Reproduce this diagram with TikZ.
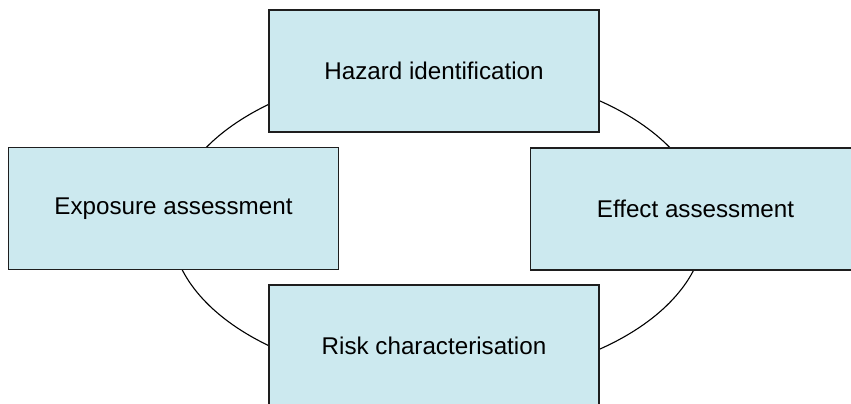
\documentclass[tikz,border=0pt]{standalone}
\usepackage{fontspec}
\setmainfont{Liberation Sans}
\definecolor{boxfill}{RGB}{204,233,239}
\definecolor{boxline}{RGB}{30,30,30}
\begin{document}
\begin{tikzpicture}[x=1pt,y=-1pt,
  stagebox/.style={draw=boxline, line width=1.1pt, fill=boxfill,
    minimum width=330pt, minimum height=122pt, inner sep=0pt,
    font=\fontsize{24.2}{29}\selectfont, text=black}]
\useasboundingbox (0,0) rectangle (851,404);
\clip (0,0) rectangle (851,404);
\draw[line width=1.1pt, black] (438,225) ellipse [x radius=267pt, y radius=156pt];
\node[stagebox] (haz) at (434,71) {Hazard identification};
\node[stagebox] (expo) at (173.5,208.5) {Exposure assessment};
\node[stagebox] (eff) at (695.5,209) {Effect assessment};
\node[stagebox] (risk) at (434,346) {Risk characterisation};
\end{tikzpicture}
\end{document}
